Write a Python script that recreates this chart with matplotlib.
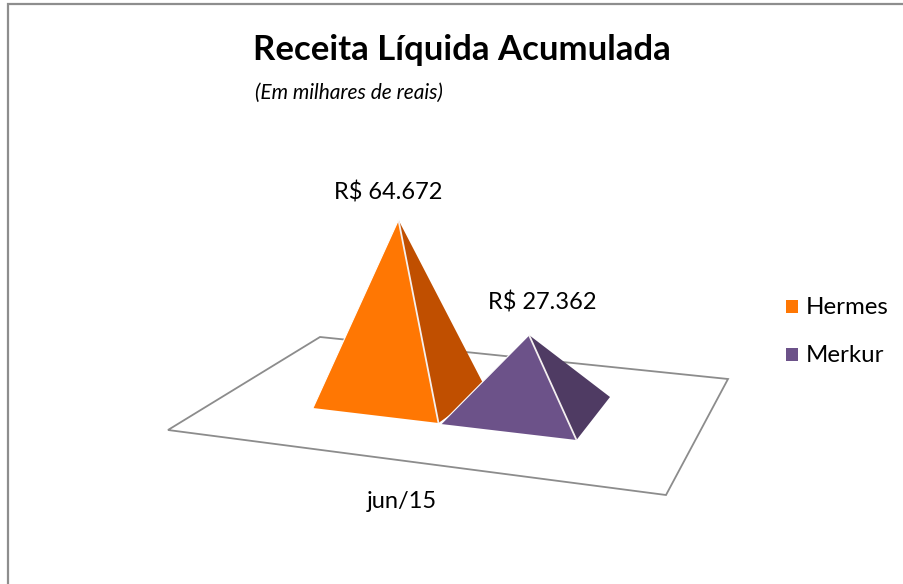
import matplotlib
matplotlib.use("Agg")
import matplotlib.pyplot as plt
from matplotlib.patches import Polygon, Rectangle

plt.rcParams['font.family'] = ['Lato', 'DejaVu Sans']

# Data
title = "Receita Líquida Acumulada"
subtitle = "(Em milhares de reais)"
category = "jun/15"
series_names = ["Hermes", "Merkur"]
series_values = [64672, 27362]
face_colors = ["#FF7703", "#6C5289"]
side_colors = ["#C04F00", "#4F3B63"]

# Projection of the 3D pseudo-axes to pixels
PX_PER_UNIT = 0.00276
front_left = [(313, 408), (441, 424)]
front_right = [(438.5, 423), (576.5, 440)]
back_right = [(486, 389), (610, 397)]
apex_skew = [-1, 3.5]
floor = [(168, 430), (320, 337), (728, 379), (666, 495)]
label_pos = [(388, 192.5), (542.5, 303)]

fig = plt.figure(figsize=(9.04, 5.84), dpi=100, facecolor="white")
ax = fig.add_axes([0, 0, 1, 1])
ax.set_xlim(0, 904)
ax.set_ylim(584, 0)
ax.axis("off")

# Outer frame (only top and left visible)
ax.plot([8.5, 8.5, 904], [584, 3.5, 3.5], color="#8E8E8E", lw=1.6,
        solid_joinstyle="miter", zorder=1)

# Floor
ax.add_patch(Polygon(floor, closed=True, facecolor="white", edgecolor="#8C8C8C",
                     lw=1.3, zorder=2))

# Pyramids
for i, value in enumerate(series_values):
    fl, fr, br = front_left[i], front_right[i], back_right[i]
    cx = (fl[0] + br[0]) / 2 + apex_skew[i]
    cy = (fl[1] + br[1]) / 2
    apex = (cx, cy - value * PX_PER_UNIT)
    z = 3 + i
    ax.add_patch(Polygon([apex, fr, br], closed=True, facecolor=side_colors[i],
                         edgecolor="none", zorder=z))
    ax.add_patch(Polygon([apex, fl, fr], closed=True, facecolor=face_colors[i],
                         edgecolor="none", zorder=z + 0.1))
    ax.plot([apex[0], fr[0]], [apex[1], fr[1]], color="#F4F0F0", lw=1.3,
            zorder=z + 0.2, solid_capstyle="butt")
    ax.plot([apex[0], fl[0]], [apex[1], fl[1]], color="white", lw=0.8,
            zorder=z + 0.2, solid_capstyle="butt")
    ax.text(label_pos[i][0], label_pos[i][1],
            "R$ " + f"{value:,}".replace(",", "."),
            ha="center", va="center", fontsize=17, color="black", zorder=10)

# Texts
ax.text(462, 50.5, title, ha="center", va="center", fontsize=25, fontweight="bold", color="black")
ax.text(349, 93, subtitle, ha="center", va="center", fontsize=15, style="italic", color="black")
ax.text(401.5, 501, category, ha="center", va="center", fontsize=17, color="black")

# Legend
for name, color, y in zip(series_names, face_colors, [306, 354]):
    ax.add_patch(Rectangle((786, y - 6.5), 12.5, 13, facecolor=color, edgecolor="none"))
    ax.text(806, y + 1, name, ha="left", va="center", fontsize=17.3, color="black")

fig.savefig("out.png", dpi=100)
